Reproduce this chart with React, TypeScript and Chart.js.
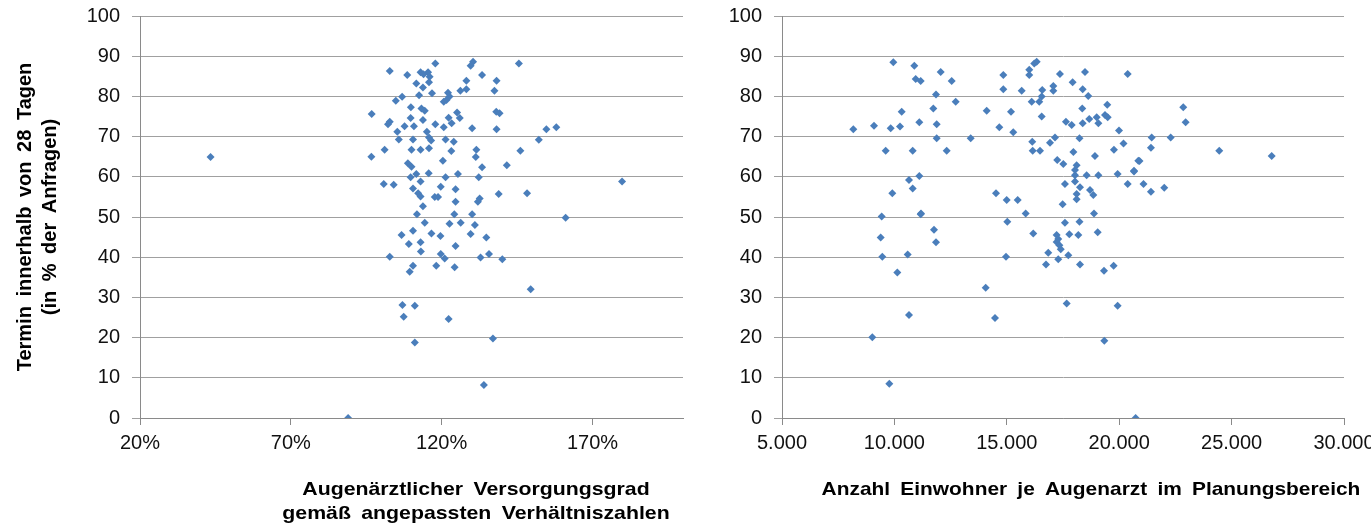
import React, { useEffect, useRef } from 'react';
import { Chart, registerables } from 'chart.js';

Chart.register(...registerables);

// ---------- DATA ----------
// Left chart: Augenärztlicher Versorgungsgrad (%) vs. Termin innerhalb von 28 Tagen (%)
const leftX = [
  117.9, 130.4, 129.6, 145.6, 102.8, 108.6, 113.0, 115.5, 116.0, 114.0,
  115.8, 111.6, 113.8, 133.4, 128.2, 138.2, 137.5, 126.2, 128.2, 122.1,
  116.8, 112.5, 106.9, 104.8, 121.6, 120.7, 122.6, 96.8, 109.8, 113.3,
  114.4, 125.1, 122.3, 126.0, 123.3, 138.1, 139.2, 102.8, 102.2, 109.7,
  113.8, 107.7, 110.8, 117.9, 120.7, 130.1, 138.2, 105.3, 105.8, 115.1,
  115.8, 116.5, 110.5, 121.3, 124.0, 152.2, 101.1, 96.7, 110.0, 113.0,
  115.8, 123.2, 131.5, 131.3, 146.1, 120.4, 108.8, 110.0, 133.4, 141.6,
  111.6, 109.7, 115.7, 125.4, 121.3, 132.3, 100.8, 104.1, 110.5, 113.0,
  112.2, 113.0, 119.7, 118.8, 117.7, 124.6, 124.6, 132.6, 132.0, 138.9,
  148.3, 113.8, 111.8, 124.2, 130.1, 114.4, 122.6, 126.3, 131.0, 106.7,
  110.5, 116.6, 119.6, 129.6, 134.8, 109.1, 113.0, 124.6, 113.1, 102.8,
  119.7, 121.0, 132.9, 135.7, 140.1, 110.5, 109.4, 118.2, 124.3, 149.5,
  107.0, 111.1, 107.4, 122.3, 111.1, 137.0, 134.0, 89.0, 43.4, 154.7,
  158.0, 179.8, 161.1,
];
const leftY = [
  88.2, 88.6, 87.6, 88.2, 86.3, 85.3, 86.0, 86.0, 84.9, 85.5,
  83.5, 83.2, 82.2, 85.3, 83.9, 83.9, 81.4, 81.4, 81.8, 80.9,
  80.8, 80.3, 79.9, 78.9, 79.1, 78.7, 80.0, 75.6, 77.3, 77.0,
  76.4, 76.0, 74.7, 74.6, 73.3, 76.2, 75.8, 73.7, 73.1, 74.6,
  74.1, 72.6, 72.6, 73.1, 72.3, 72.1, 71.8, 71.2, 69.3, 71.2,
  69.8, 69.0, 69.3, 69.3, 68.7, 69.2, 66.7, 65.0, 66.7, 66.7,
  67.1, 66.4, 66.7, 64.9, 66.5, 64.0, 63.4, 62.5, 62.4, 62.9,
  60.7, 59.9, 60.9, 60.7, 59.9, 59.9, 58.2, 58.0, 57.1, 58.8,
  55.9, 55.1, 57.5, 55.0, 55.0, 56.9, 53.8, 54.6, 53.8, 55.7,
  55.9, 52.7, 50.7, 50.7, 50.7, 48.6, 48.3, 48.6, 48.0, 45.5,
  46.6, 45.9, 45.3, 45.8, 44.9, 43.3, 43.7, 42.8, 41.4, 40.1,
  40.8, 39.7, 39.9, 40.8, 39.5, 37.9, 36.4, 37.9, 37.5, 32.0,
  28.1, 27.9, 25.2, 24.6, 18.8, 19.8, 8.2, 0.0, 64.9, 71.8,
  72.3, 58.8, 49.8,
];

// Right chart: Anzahl Einwohner je Augenarzt vs. Termin innerhalb von 28 Tagen (%)
const rightX = [
  8172, 9092, 9835, 10249, 9612, 9951, 10885, 10947, 11169, 10324,
  11108, 12059, 11850, 11731, 11881, 11881, 12548, 12726, 12326, 10814,
  10649, 10814, 11108, 9906, 11183, 13394, 14106, 14667, 14845, 14845,
  15186, 15288, 15662, 16000, 16000, 16329, 16222, 16107, 16444, 16578,
  16551, 16551, 16133, 16151, 16476, 17068, 17068, 16921, 17143, 17245,
  17365, 14519, 14994, 15483, 15839, 9435, 9390, 9462, 10129, 10591,
  11169, 11761, 11850, 10649, 9017, 9773, 14061, 14474, 15022, 14964,
  16177, 16845, 16743, 17217, 17217, 17290, 18478, 20378, 17929, 18375,
  18624, 18357, 19469, 19487, 19367, 18998, 18669, 19074, 18375, 17632,
  17886, 19990, 18233, 20191, 19767, 17961, 18922, 20849, 17513, 18106,
  18033, 18550, 19074, 18033, 19931, 20657, 20378, 17587, 18033, 18255,
  18700, 18848, 18106, 18106, 17483, 18878, 17587, 18233, 17780, 18180,
  19043, 17290, 17340, 17400, 17735, 18255, 19323, 19753, 17663, 19931,
  19337, 20732, 22850, 22956, 21444, 22289, 21413, 24451, 26782, 20902,
  20657, 21080, 21413, 22005,
];
const rightY = [
  71.8, 72.7, 72.1, 72.5, 66.5, 88.5, 87.6, 84.3, 83.8, 76.2,
  73.6, 86.1, 80.5, 77.0, 73.1, 69.6, 83.8, 78.7, 66.5, 66.5,
  59.2, 57.1, 60.2, 55.9, 50.9, 69.6, 76.4, 72.3, 85.3, 81.8,
  76.2, 71.1, 81.4, 86.6, 85.3, 88.6, 88.2, 78.7, 78.7, 81.6,
  80.0, 75.0, 68.7, 66.5, 66.5, 82.6, 81.4, 68.5, 69.8, 64.2,
  85.6, 55.9, 54.2, 54.2, 50.9, 50.1, 44.9, 40.1, 36.2, 40.7,
  50.7, 46.8, 43.7, 25.6, 20.1, 8.5, 32.4, 24.9, 48.8, 40.1,
  45.9, 41.1, 38.2, 45.5, 43.8, 39.5, 86.1, 85.6, 83.5, 81.8,
  80.1, 77.0, 77.9, 74.8, 75.4, 74.8, 74.4, 73.3, 73.3, 73.7,
  72.9, 71.5, 69.6, 68.3, 66.7, 66.2, 65.2, 64.0, 63.2, 62.9,
  61.7, 60.4, 60.4, 60.4, 60.7, 61.5, 58.2, 58.2, 58.8, 57.4,
  56.7, 55.5, 55.7, 54.4, 53.2, 50.9, 48.6, 48.8, 45.7, 45.5,
  46.2, 44.5, 43.0, 42.0, 40.5, 38.2, 36.6, 37.9, 28.5, 27.9,
  19.2, 0.0, 77.3, 73.6, 69.8, 69.8, 67.2, 66.5, 65.2, 63.9,
  61.3, 58.2, 56.3, 57.3,
];

// Ticks and labels
const yTickValues = [0, 10, 20, 30, 40, 50, 60, 70, 80, 90, 100];
const leftXTickValues = [20, 70, 120, 170];
const leftXTickLabels = ['20%', '70%', '120%', '170%'];
const rightXTickValues = [5000, 10000, 15000, 20000, 25000, 30000];
const rightXTickLabels = ['5.000', '10.000', '15.000', '20.000', '25.000', '30.000'];

// Titles
const yTitleLines = ['Termin innerhalb von 28 Tagen', '(in % der Anfragen)'];
const leftXTitleLines = ['Augenärztlicher Versorgungsgrad', 'gemäß angepassten Verhältniszahlen'];
const rightXTitleLines = ['Anzahl Einwohner je Augenarzt im Planungsbereich'];

// ---------- STYLE ----------
const FONT = '"Liberation Sans", Arial, sans-serif';
const MARKER = '#4a7ebb';
const GRID = '#a0a0a0';
const AXIS = '#8a8a8a';

type TitleItem = {
  lines: string[]; x: number; y: number; rotation: number;
  lineHeight: number; wordSpacing: number; size: number; scaleX: number;
};

function titlePlugin(items: TitleItem[]) {
  return {
    id: 'customTitles',
    afterDraw(chart: any) {
      const ctx = chart.ctx as CanvasRenderingContext2D;
      items.forEach((it) => {
        ctx.save();
        ctx.font = 'bold ' + it.size + 'px ' + FONT;
        ctx.fillStyle = '#000';
        ctx.textAlign = 'center';
        ctx.textBaseline = 'middle';
        (ctx as any).wordSpacing = it.wordSpacing + 'px';
        ctx.translate(it.x, it.y);
        ctx.rotate(it.rotation);
        ctx.scale(it.scaleX, 1);
        it.lines.forEach((l, i) => ctx.fillText(l, 0, i * it.lineHeight));
        ctx.restore();
      });
    },
  };
}

function makeConfig(o: {
  xs: number[]; ys: number[]; xMin: number; xMax: number;
  xTicks: number[]; xLabels: string[]; yWidth: number; padRight: number; titles: TitleItem[];
}): any {
  const points = o.xs.map((x, i) => ({ x, y: o.ys[i] }));
  return {
    type: 'scatter',
    data: {
      datasets: [{
        data: points,
        backgroundColor: MARKER,
        borderColor: MARKER,
        borderWidth: 0,
        pointStyle: 'rectRot',
        pointRadius: 4,
        pointHoverRadius: 4,
      }],
    },
    options: {
      responsive: false,
      animation: false,
      events: [],
      layout: { padding: { left: 0, top: 16, right: o.padRight, bottom: 0 } },
      plugins: { legend: { display: false }, tooltip: { enabled: false }, title: { display: false } },
      scales: {
        x: {
          type: 'linear',
          min: o.xMin,
          max: o.xMax,
          afterBuildTicks: (s: any) => { s.ticks = o.xTicks.map((v) => ({ value: v })); },
          afterFit: (s: any) => { s.height = 109; s.paddingLeft = 0; s.paddingRight = 0; },
          ticks: {
            autoSkip: false,
            maxRotation: 0,
            padding: 6,
            color: '#111',
            font: { family: FONT, size: 20 },
            callback: (v: any) => { const i = o.xTicks.indexOf(Number(v)); return i >= 0 ? o.xLabels[i] : ''; },
          },
          grid: { drawOnChartArea: false, drawTicks: true, tickLength: 7, color: AXIS },
          border: { display: true, color: AXIS },
        },
        y: {
          type: 'linear',
          min: 0,
          max: 100,
          afterBuildTicks: (s: any) => { s.ticks = yTickValues.map((v) => ({ value: v })); },
          afterFit: (s: any) => { s.width = o.yWidth; s.paddingTop = 0; s.paddingBottom = 0; },
          ticks: { padding: 12, color: '#111', font: { family: FONT, size: 20 } },
          grid: { color: GRID, tickLength: 8, drawTicks: true },
          border: { display: true, color: AXIS },
        },
      },
    },
    plugins: [titlePlugin(o.titles)],
  };
}

function ScatterCanvas(props: { left: number; width: number; config: any }) {
  const ref = useRef<HTMLCanvasElement | null>(null);
  useEffect(() => {
    if (!ref.current) return;
    const chart = new Chart(ref.current, props.config);
    return () => chart.destroy();
  }, []);
  return (
    <canvas
      ref={ref}
      width={props.width}
      height={527}
      style={{ position: 'absolute', left: props.left, top: 0, width: props.width, height: 527 }}
    />
  );
}

export default function App() {
  const leftConfig = makeConfig({
    xs: leftX, ys: leftY, xMin: 20, xMax: 200,
    xTicks: leftXTickValues, xLabels: leftXTickLabels,
    yWidth: 140, padRight: 17,
    titles: [
      { lines: yTitleLines, x: 25, y: 217, rotation: -Math.PI / 2, lineHeight: 25, wordSpacing: 4, size: 20, scaleX: 1 },
      { lines: leftXTitleLines, x: 476, y: 490, rotation: 0, lineHeight: 24, wordSpacing: 4, size: 19, scaleX: 1.12 },
    ],
  });
  const rightConfig = makeConfig({
    xs: rightX, ys: rightY, xMin: 5000, xMax: 30000,
    xTicks: rightXTickValues, xLabels: rightXTickLabels,
    yWidth: 82, padRight: 27,
    titles: [
      { lines: rightXTitleLines, x: 391, y: 490, rotation: 0, lineHeight: 24, wordSpacing: 4, size: 19, scaleX: 1.1 },
    ],
  });
  return (
    <div style={{ position: 'absolute', left: 0, top: 0, width: 1371, height: 527, background: '#fff', overflow: 'hidden' }}>
      <ScatterCanvas left={0} width={700} config={leftConfig} />
      <ScatterCanvas left={700} width={671} config={rightConfig} />
    </div>
  );
}
